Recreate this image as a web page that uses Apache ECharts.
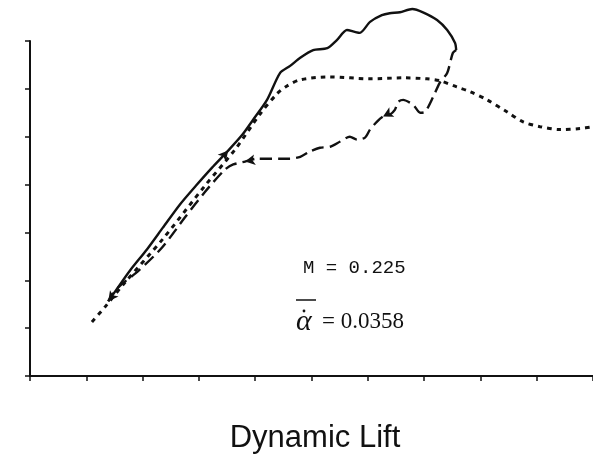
<!DOCTYPE html>
<html>
<head>
<meta charset="utf-8">
<title>Dynamic Lift</title>
<script src="https://cdn.jsdelivr.net/npm/echarts@6/dist/echarts.min.js"></script>
<style>
  html, body { margin: 0; padding: 0; background: #fff; }
  #chart { width: 593px; height: 454px; }
</style>
</head>
<body>
<div id="chart"></div>
<script>
// curve points, [x, y] in axis tick units
var upstroke = [
  [1.39, 1.56], [1.55, 1.83], [1.78, 2.21], [2.08, 2.65], [2.36, 3.10],
  [2.66, 3.58], [2.95, 3.98], [3.23, 4.35], [3.52, 4.71], [3.77, 5.04],
  [3.96, 5.35], [4.21, 5.77], [4.44, 6.33], [4.62, 6.48], [4.80, 6.65],
  [5.03, 6.81], [5.28, 6.85], [5.45, 7.02], [5.63, 7.23], [5.77, 7.19],
  [5.86, 7.17], [6.04, 7.40], [6.25, 7.54], [6.39, 7.58], [6.57, 7.60],
  [6.79, 7.67], [6.98, 7.60], [7.23, 7.44], [7.41, 7.23], [7.55, 6.96],
  [7.57, 6.81]
];

var downstroke = [
  [7.57, 6.81], [7.51, 6.75], [7.41, 6.33], [7.28, 6.13], [7.16, 5.83],
  [7.02, 5.52], [6.93, 5.50], [6.82, 5.65], [6.75, 5.71], [6.63, 5.77],
  [6.54, 5.73], [6.48, 5.56], [6.39, 5.46], [6.27, 5.42], [6.16, 5.31],
  [6.04, 5.15], [5.95, 4.98], [5.81, 4.94], [5.68, 5.00], [5.51, 4.90],
  [5.33, 4.79], [5.15, 4.77], [4.97, 4.69], [4.80, 4.58], [4.62, 4.54],
  [4.03, 4.54], [3.82, 4.48], [3.61, 4.42], [3.46, 4.31], [3.11, 3.85],
  [2.75, 3.31], [2.35, 2.69], [1.92, 2.19], [1.63, 1.92], [1.46, 1.71],
  [1.39, 1.56]
];

var steady = [
  [1.10, 1.13], [1.33, 1.44], [1.69, 1.96], [2.35, 2.85], [3.11, 3.98],
  [3.64, 4.73], [4.09, 5.48], [4.39, 5.90], [4.55, 6.05], [4.80, 6.19],
  [5.33, 6.25], [6.04, 6.21], [6.63, 6.23], [7.05, 6.21], [7.28, 6.17],
  [7.58, 6.04], [7.82, 5.94], [8.12, 5.77], [8.47, 5.52], [8.76, 5.31],
  [9.06, 5.21], [9.41, 5.15], [9.77, 5.17], [10.0, 5.21]
];

// which curve point carries an arrowhead, and which way it points (deg, ccw from up)
var upArrows = [[8, -40], [22, -72]];
var downArrows = [[13, 118], [26, 100], [35, 143]];

var ink = '#111';

function arrowMarks(points, arrows) {
  return arrows.map(function (a) {
    return { coord: points[a[0]], symbolRotate: a[1] };
  });
}

var chart = echarts.init(document.getElementById('chart'));

var axisCommon = {
  type: 'value',
  interval: 1,
  axisLine: { show: true, lineStyle: { color: ink, width: 2 } },
  axisTick: { show: true, length: 5, lineStyle: { color: ink, width: 1.5 } },
  axisLabel: { show: false },
  splitLine: { show: false }
};

chart.setOption({
  animation: false,
  backgroundColor: '#fff',
  grid: { left: 30, right: 0, top: 41, bottom: 78, outerBoundsMode: 'none' },
  xAxis: Object.assign({ min: 0, max: 10 }, axisCommon),
  yAxis: Object.assign({ min: 0, max: 7 }, axisCommon),
  series: [
    {
      name: 'upstroke',
      type: 'line',
      data: upstroke,
      clip: false,
      smooth: 0.25,
      showSymbol: false,
      lineStyle: { color: ink, width: 2.4 },
      markPoint: {
        symbol: 'arrow',
        symbolSize: [8, 10],
        label: { show: false },
        itemStyle: { color: ink },
        data: arrowMarks(upstroke, upArrows)
      }
    },
    {
      name: 'downstroke',
      type: 'line',
      data: downstroke,
      clip: false,
      smooth: 0.25,
      showSymbol: false,
      lineStyle: { color: ink, width: 2.4, type: [12, 6] },
      markPoint: {
        symbol: 'arrow',
        symbolSize: [8, 10],
        label: { show: false },
        itemStyle: { color: ink },
        data: arrowMarks(downstroke, downArrows)
      }
    },
    {
      name: 'steady',
      type: 'line',
      data: steady,
      clip: false,
      smooth: 0.3,
      showSymbol: false,
      lineStyle: { color: ink, width: 3, type: [4.5, 5] }
    }
  ],
  graphic: [
    {
      type: 'text', x: 303, y: 268,
      style: { text: 'M = 0.225', font: '19px "Liberation Mono", monospace', fill: '#111', textVerticalAlign: 'middle' }
    },
    {
      type: 'text', x: 296, y: 322,
      style: { text: 'α', font: 'italic 30px "Liberation Serif", serif', fill: '#111', textVerticalAlign: 'middle' }
    },
    {
      type: 'line',
      shape: { x1: 296, y1: 300, x2: 316, y2: 300 },
      style: { stroke: '#111', lineWidth: 1.5 }
    },
    {
      type: 'circle',
      shape: { cx: 304, cy: 311, r: 1.4 },
      style: { fill: '#111' }
    },
    {
      type: 'text', x: 322, y: 322,
      style: { text: '= 0.0358', font: '23px "Liberation Serif", serif', fill: '#111', textVerticalAlign: 'middle' }
    },
    {
      type: 'text', x: 315, y: 438,
      style: { text: 'Dynamic Lift', font: '31px "Liberation Sans", Arial, sans-serif', fill: '#111', textAlign: 'center', textVerticalAlign: 'middle' }
    }
  ]
});
</script>
</body>
</html>
